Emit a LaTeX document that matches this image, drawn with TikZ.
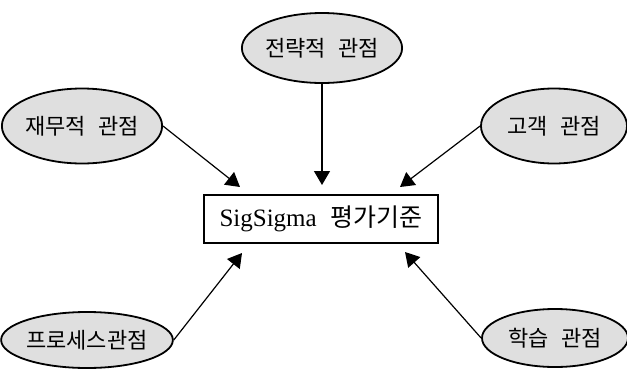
\documentclass[tikz,border=0pt]{standalone}
\usepackage{fontspec}
\setmainfont{Liberation Serif}
\newfontfamily\kr{Noto Sans CJK KR}
\newcommand{\gap}{\hspace{0.55em}}
\usetikzlibrary{shapes.geometric,arrows.meta}
\begin{document}
\begin{tikzpicture}[x=0.5pt, y=-0.5pt,
		view/.style = {draw, ellipse, line width=0.9pt, fill=gray!25, inner sep=0pt, font=\kr\fontsize{11}{13}\selectfont},
		crit/.style = {draw, rectangle, line width=1.2pt, fill=white, minimum width=117pt, minimum height=24pt, font=\fontsize{12.5}{14}\selectfont},
		link/.style = {line width=0.6pt, -{Triangle[length=7pt,width=8pt]}}]
		\useasboundingbox (0,0) rectangle (627,370);
		%Solmut
		\node[crit] (crit) at (321,219) {SigSigma\gap{\kr 평가기준}};
		\node[view, minimum width=72pt, minimum height=35pt] (strat) at (322,48) {전략적\gap 관점};
		\node[view, minimum width=75pt, minimum height=37.5pt] (fin) at (82,126) {재무적\gap 관점};
		\node[view, minimum width=73pt, minimum height=37.5pt] (cust) at (554,126) {고객\gap 관점};
		\node[view, minimum width=76pt, minimum height=28pt] (proc) at (87,340) {프로세스관점};
		\node[view, minimum width=73pt, minimum height=29pt] (learn) at (555,338) {학습\gap 관점};
		%Kärjet
		\coordinate (tipS) at (322,185);
		\coordinate (tipF) at (240,187);
		\coordinate (tipC) at (400,187);
		\coordinate (tipP) at (242,253);
		\coordinate (tipL) at (405,252);
		% Nuolet
		\draw [link] (strat.south) -- (tipS);	% strat
		\draw [link] (fin.east) -- (tipF);		% fin
		\draw [link] (cust.west) -- (tipC);		% cust
		\draw [link] (proc.east) -- (tipP);		% proc
		\draw [link] (learn.west) -- (tipL);		% learn
\end{tikzpicture}
\end{document}
